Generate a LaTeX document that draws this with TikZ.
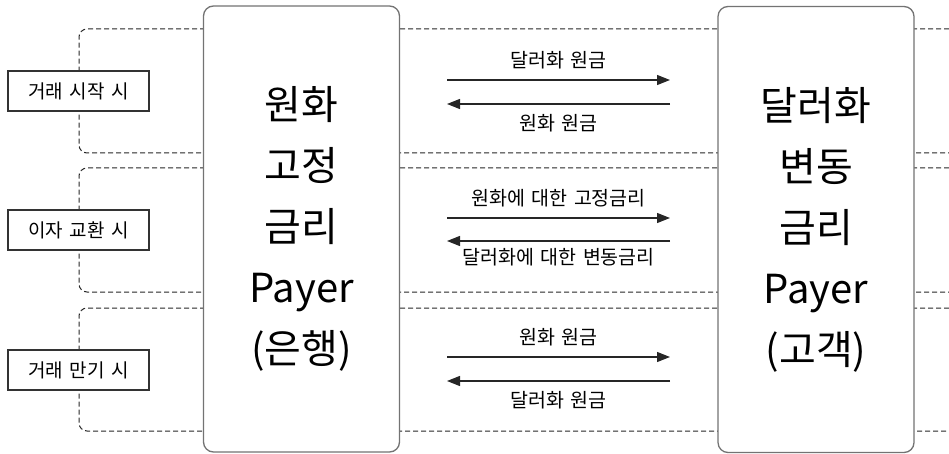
\documentclass[tikz,border=0pt]{standalone}
\usepackage{fontspec}
\setmainfont[WordSpace=1.5]{Noto Sans CJK KR}
\usetikzlibrary{arrows.meta,positioning}
\tikzset{>={Triangle[length=13pt,width=10pt]},
	party/.style={% the two counterparties
		draw=black!55, line width=1.3pt, fill=white,
		rounded corners=10pt,
		minimum width=196pt, minimum height=446pt,
		align=center,
		font=\fontsize{40}{61}\selectfont
	},
	phase/.style={
		draw=black!80, line width=1.1pt, fill=white,
		minimum width=141pt, minimum height=40pt,
		inner sep=0pt,
		font=\fontsize{19}{22}\selectfont
	},
	band/.style={
		draw=black!85, line width=1pt,
		dash pattern=on 5pt off 3pt,
		rounded corners=8pt
	},
	flow/.style={->, line width=1.2pt, draw=black!85},
	lbl/.style={inner sep=0pt, font=\fontsize{19.5}{22}\selectfont}
}
\begin{document}
\begin{tikzpicture}[x=1pt, y=-1pt]
		\useasboundingbox (0,0) rectangle (949,454);
		% dashed bands, one per phase
		\foreach \t/\b in {29/153, 168/292, 308/431}
		\draw [band] (949,\t) -| (79,\b) -- (949,\b);
		
		\node [party] (bank) at (301.5,229) {원화\\고정\\금리\\Payer\\(은행)};
		\node [party] (client) at (816,229.5) {달러화\\변동\\금리\\Payer\\(고객)};
		
		\node [phase] (start) at (78.5,91) {거래 시작 시};
		\node [phase] (swap) at (78.5,230) {이자 교환 시};
		\node [phase] (mature) at (78.5,370) {거래 만기 시};
		
		\foreach \n/\y in {1/80, 2/104, 3/218, 4/241, 5/357, 6/381} {
			\coordinate (l\n) at (447,\y);
			\coordinate (r\n) at (670,\y);
		}
		\draw [flow] (l1) -- (r1) node [lbl, midway, above=10pt] {달러화 원금};
		\draw [flow] (r2) -- (l2) node [lbl, midway, below=10pt] {원화 원금};
		\draw [flow] (l3) -- (r3) node [lbl, midway, above=10pt] {원화에 대한 고정금리};
		\draw [flow] (r4) -- (l4) node [lbl, midway, below=7pt] {달러화에 대한 변동금리};
		\draw [flow] (l5) -- (r5) node [lbl, midway, above=10pt] {원화 원금};
		\draw [flow] (r6) -- (l6) node [lbl, midway, below=10pt] {달러화 원금};
	\end{tikzpicture}
\end{document}
